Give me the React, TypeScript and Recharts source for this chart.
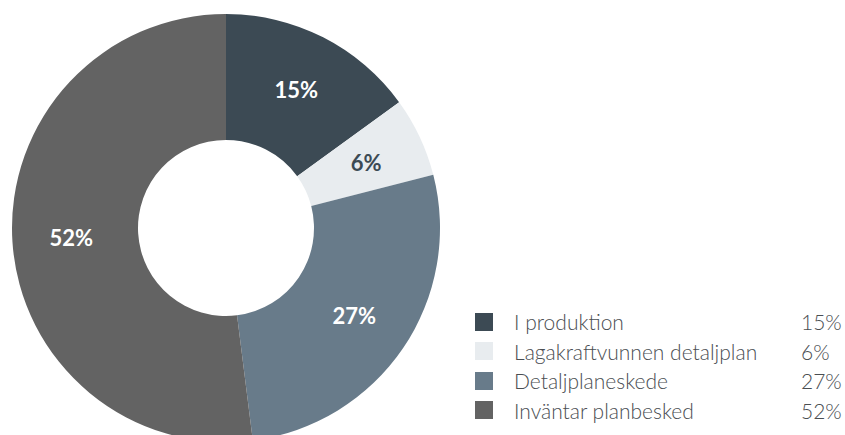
import React from "react";
import { PieChart, Pie, Cell, Legend } from "recharts";

const categories = ["I produktion", "Lagakraftvunnen detaljplan", "Detaljplaneskede", "Inväntar planbesked"];
const values = [15, 6, 27, 52];
const colors = ["#3c4a54", "#e8ecef", "#687b8a", "#636363"];
const labelColors = ["#ffffff", "#3c4a54", "#ffffff", "#ffffff"];

const data = categories.map((name, i) => ({ name, value: values[i] }));

const FONT = "Lato, 'Noto Sans', sans-serif";
const RAD = Math.PI / 180;

const renderLabel = (props: any) => {
  const { cx, cy, midAngle, innerRadius, outerRadius, index, value } = props;
  const r = (innerRadius + outerRadius) / 2 + 4;
  const x = cx + r * Math.cos(-midAngle * RAD);
  const y = cy + r * Math.sin(-midAngle * RAD);
  return (
    <text
      x={x}
      y={y}
      fill={labelColors[index]}
      textAnchor="middle"
      dominantBaseline="central"
      fontFamily={FONT}
      fontWeight={700}
      fontSize={22}
    >
      {`${value}%`}
    </text>
  );
};

const LegendContent = () => (
  <div style={{ fontFamily: FONT, fontSize: 21, fontWeight: 300, color: "#4a4e52" }}>
    {data.map((d, i) => (
      <div key={d.name} style={{ display: "flex", alignItems: "center", height: 29.5 }}>
        <div style={{ width: 18, height: 18, background: colors[i], marginRight: 21 }} />
        <div style={{ width: 287, whiteSpace: "nowrap" }}>{d.name}</div>
        <div>{`${d.value}%`}</div>
      </div>
    ))}
  </div>
);

export default function App() {
  return (
    <div style={{ position: "absolute", left: 0, top: 0, width: 845, height: 435, background: "#fff" }}>
      <PieChart width={845} height={435} margin={{ top: 0, right: 0, bottom: 0, left: 0 }}>
        <Pie
          data={data}
          dataKey="value"
          nameKey="name"
          cx={226}
          cy={228}
          innerRadius={88}
          outerRadius={214}
          startAngle={90}
          endAngle={-270}
          stroke="none"
          label={renderLabel}
          labelLine={false}
          isAnimationActive={false}
        >
          {data.map((d, i) => (
            <Cell key={d.name} fill={colors[i]} />
          ))}
        </Pie>
        <Legend
          content={<LegendContent />}
          wrapperStyle={{ position: "absolute", left: 475, top: 307, width: 370 }}
        />
      </PieChart>
    </div>
  );
}
